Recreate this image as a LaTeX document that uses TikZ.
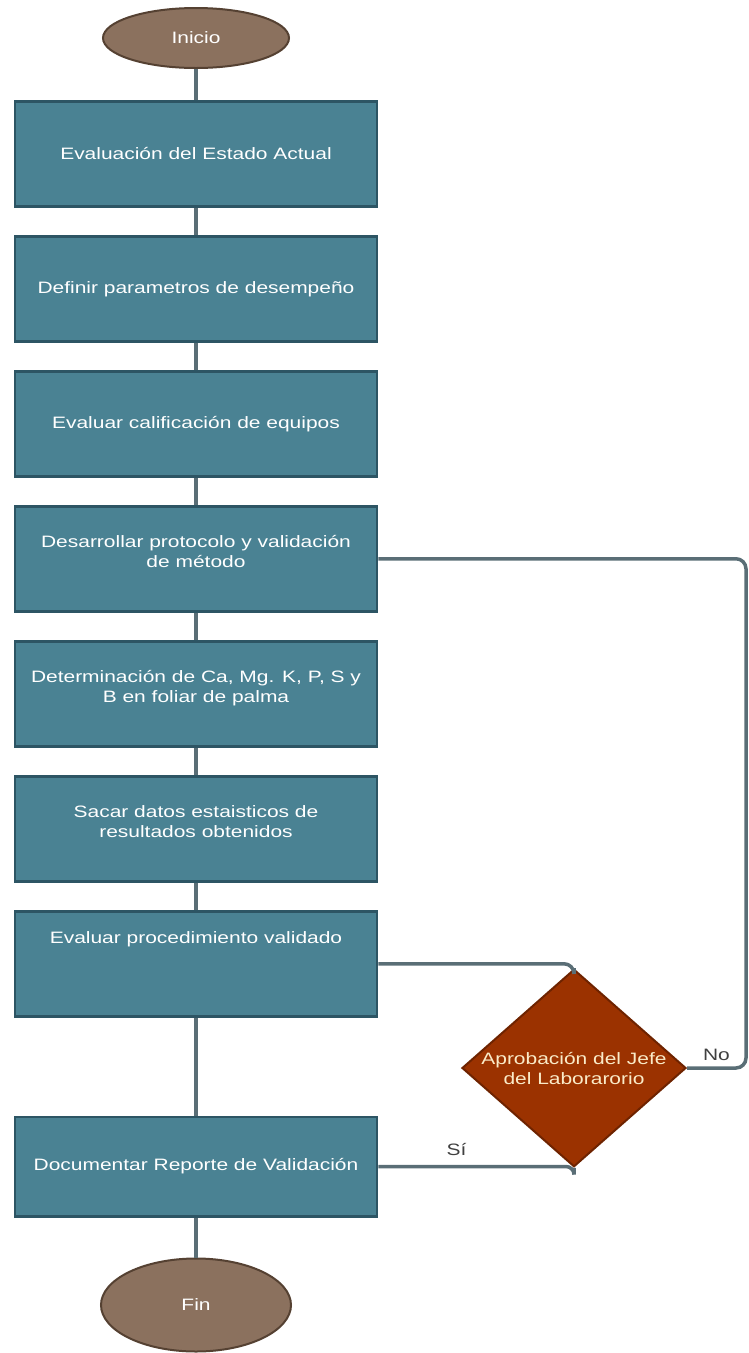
\documentclass[tikz,border=0pt]{standalone}
\usepackage{fontspec}
\setmainfont{Liberation Sans}[FakeStretch=1.27]
\usepackage{tikz}
\usetikzlibrary{shapes.geometric}
\usetikzlibrary{positioning}
\usetikzlibrary{calc}
\definecolor{boxfill}{RGB}{74,130,147}
\definecolor{boxline}{RGB}{45,85,100}
\definecolor{termfill}{RGB}{139,113,94}
\definecolor{termline}{RGB}{85,65,50}
\definecolor{decfill}{RGB}{155,50,0}
\definecolor{decline}{RGB}{110,35,0}
\definecolor{dectext}{RGB}{250,235,200}
\definecolor{flowline}{RGB}{90,110,118}
\tikzset{process/.style={draw=boxline, fill=boxfill, line width=2.5pt, rectangle, minimum width=362pt, minimum height=105pt, align=center, text=white, font=\fontsize{16.5}{20}\selectfont}}
\tikzset{twoline/.style={text depth=14pt}}
\tikzset{terminal/.style={draw=termline, fill=termfill, line width=2pt, ellipse, inner sep=0pt, text=white, font=\fontsize{16.5}{20}\selectfont}}
\tikzset{decision/.style={draw=decline, fill=decfill, line width=2pt, diamond, inner sep=-5pt, minimum width=224pt, minimum height=176pt, align=center, text=dectext, font=\fontsize{16.5}{20}\selectfont}}
\tikzset{flow/.style={draw=flowline, line width=3.5pt}}

\begin{document}
\begin{tikzpicture}[x=1pt, y=1pt]
\useasboundingbox (0,0) rectangle (748,-1353);
\node[terminal, minimum width=186pt, minimum height=60pt] (start) at (196,-38) {Inicio};
\node[process, below=31pt of start] (eval) {Evaluación del Estado Actual};
\node[process, below=27.5pt of eval] (param) {Definir parametros de desempeño};
\node[process, below=27.5pt of param] (equip) {Evaluar calificación de equipos};
\node[process, twoline, below=27.5pt of equip] (proto) {Desarrollar protocolo y validación\\de método};
\node[process, twoline, below=27.5pt of proto] (determ) {Determinación de Ca, Mg. K, P, S y\\B en foliar de palma};
\node[process, twoline, below=27.5pt of determ] (stats) {Sacar datos estaisticos de\\resultados obtenidos};
\node[process, text depth=52pt, below=27.5pt of stats] (valid) {Evaluar procedimiento validado};
\node[process, minimum height=99.5pt, below=98pt of valid] (report) {Documentar Reporte de Validación};
\node[terminal, minimum width=190pt, minimum height=93pt, below=40pt of report] (end) {Fin};
\node[decision] (appr) at (574,-1068) {Aprobación del Jefe\\del Laborarorio};
\coordinate[right=59pt of appr.east] (loop);

% main column
\foreach \a/\b in {start/eval, eval/param, param/equip, equip/proto, proto/determ, determ/stats, stats/valid, valid/report, report/end}
  \draw[flow] (\a) -- (\b);

% approval loop
\draw[flow, rounded corners=10pt] (valid.east) -| (appr.north);
\draw[flow, rounded corners=10pt] (proto.east) -| (loop) -- node[above=2pt, text=black!75, font=\fontsize{16.5}{20}\selectfont] {No} (appr.east);
\draw[flow, rounded corners=8pt] (appr.south) |- node[pos=0.8, above=6pt, text=black!75, font=\fontsize{16.5}{20}\selectfont] {Sí} (report.east);
\end{tikzpicture}
\end{document}
